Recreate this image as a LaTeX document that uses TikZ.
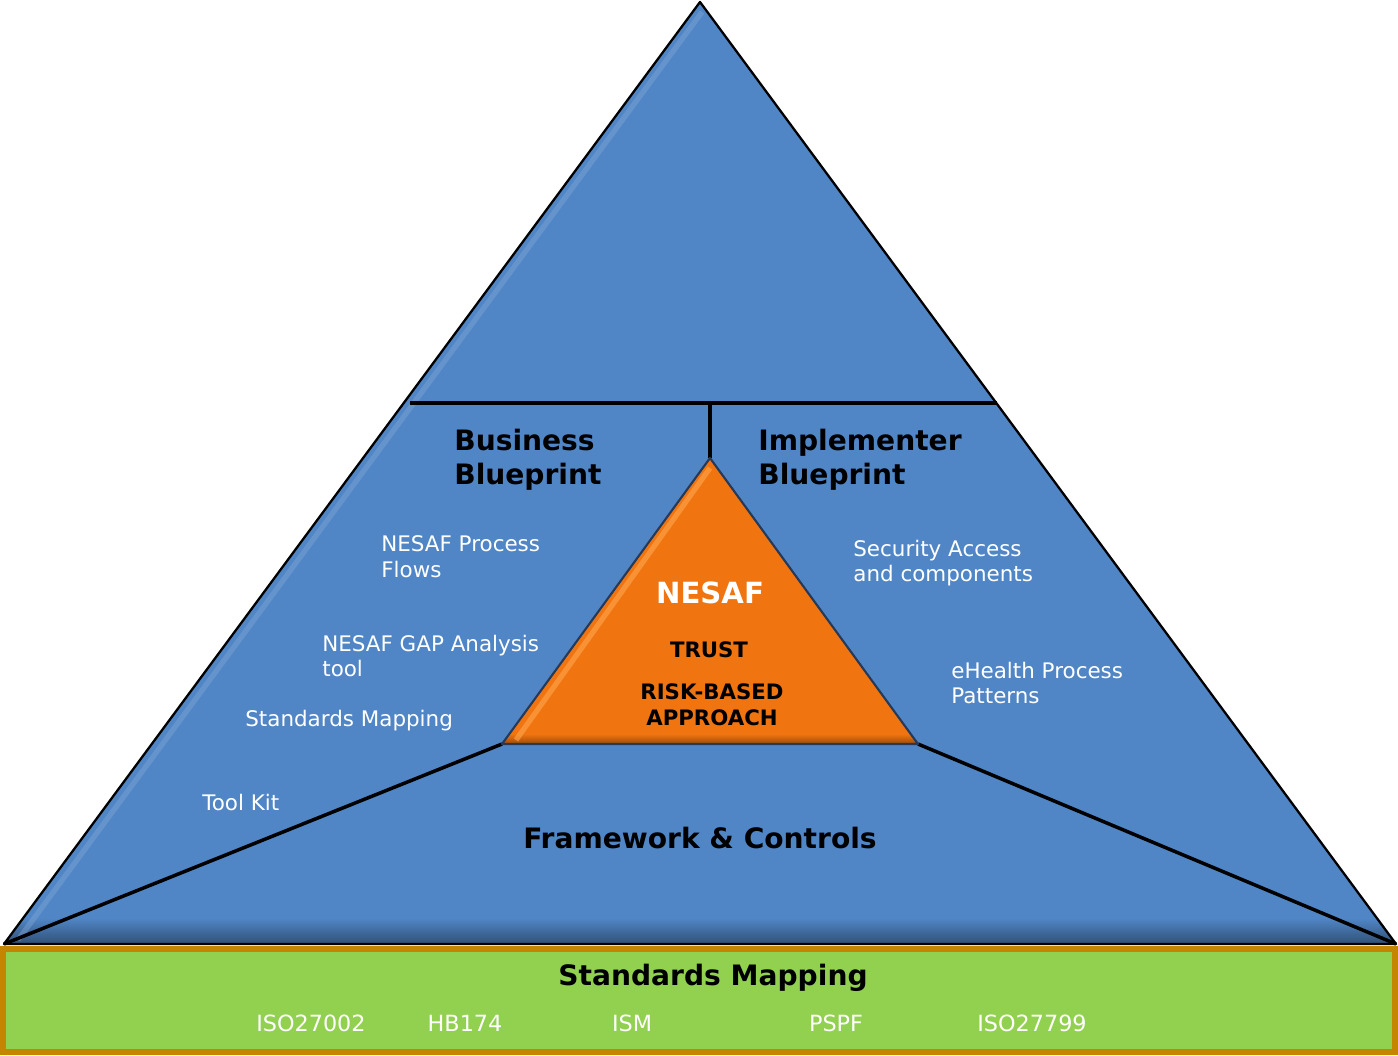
\documentclass[tikz,border=0pt]{standalone}
\usepackage{fontspec}
\setmainfont{DejaVu Sans}
\usetikzlibrary{positioning, calc}
\definecolor{pyrBlue}{RGB}{80,134,198}
\definecolor{coreOrange}{RGB}{240,116,16}
\definecolor{baseGreen}{RGB}{146,208,80}
\definecolor{baseGold}{RGB}{196,134,0}
\definecolor{edgeDark}{RGB}{38,58,88}

\tikzset{
  whiteText/.style={text=white, font=\fontsize{12.2}{14.6}\selectfont, align=left, anchor=west, inner sep=0pt},
  headText/.style={text=black, font=\fontsize{16}{19.3}\bfseries\selectfont, align=left, anchor=west, inner sep=0pt},
  stdText/.style={text=white, font=\fontsize{12.7}{14}\selectfont, inner sep=0pt},
}

\begin{document}
\begin{tikzpicture}[x=0.02cm, y=-0.02cm]
    \useasboundingbox (0,0) rectangle (1398,1055);

    % eckpunkte
    \coordinate (top) at (700,2);
    \coordinate (bl) at (4,944);
    \coordinate (br) at (1396,944);
    \coordinate (hl) at (410,403);
    \coordinate (hr) at (997,403);
    \coordinate (hm) at (710,403);
    \coordinate (ctop) at (710,458);
    \coordinate (cl) at (502,744);
    \coordinate (cr) at (918,744);

    % grosses dreieck
    \fill[pyrBlue] (top) -- (bl) -- (br) -- cycle;
    \begin{scope}
        \clip (top) -- (bl) -- (br) -- cycle;
        \shade[top color=pyrBlue, bottom color=pyrBlue!60!black] (0,918) rectangle (1398,944);
        \draw[pyrBlue!70!white, line width=3pt, opacity=0.4] ($(top)+(2,10)$) -- ($(bl)+(14,-4)$);
    \end{scope}
    \draw[black, line width=1.3pt, line join=round] (top) -- (bl) -- (br) -- cycle;

    % trennlinien
    \draw[black, line width=2.8pt] (hl) -- (hr);
    \draw[black, line width=2.8pt] (hm) -- (ctop);
    \draw[black, line width=2pt] (cl) -- (bl);
    \draw[black, line width=2pt] (cr) -- (br);

    % kern-dreieck
    \fill[coreOrange] (ctop) -- (cl) -- (cr) -- cycle;
    \begin{scope}
        \clip (ctop) -- (cl) -- (cr) -- cycle;
        \shade[top color=coreOrange, bottom color=coreOrange!65!black] (0,734) rectangle (1398,744);
        \draw[orange!70!white, line width=3pt, opacity=0.6] ($(ctop)+(0,10)$) -- ($(cl)+(14,-4)$);
    \end{scope}
    \draw[edgeDark, line width=1.2pt, line join=round] (ctop) -- (cl) -- (cr) -- cycle;

    % beschriftung oben
    \node[headText] (biz) at (454,460) {Business\\Blueprint};
    \node[headText] (impl) at (758,460) {Implementer\\Blueprint};

    \node[whiteText] (flows) at (381,557) {NESAF Process\\Flows};
    \node[whiteText] (gap) at (322,656) {NESAF GAP Analysis\\tool};
    \node[whiteText] (mapL) at (245,721) {Standards Mapping};
    \node[whiteText] (kit) at (202,802) {Tool Kit};

    \node[whiteText] (sec) at (853,563) {Security Access\\and components};
    \node[whiteText] (ehp) at (951,683) {eHealth Process\\Patterns};

    % kern
    \node[text=white, font=\fontsize{16.6}{19}\bfseries\selectfont] (nesaf) at (710,593) {NESAF};
    \node[font=\fontsize{12.1}{14.5}\bfseries\selectfont] (trust) at (709,650) {TRUST};
    \node[font=\fontsize{12.1}{14.7}\bfseries\selectfont, align=center] (risk) at (712,705) {RISK-BASED\\APPROACH};

    \node[font=\fontsize{16}{19}\bfseries\selectfont] (fc) at (700,838) {Framework \& Controls};

    % standards leiste
    \draw[baseGold, fill=baseGreen, line width=3.4pt] (3,949) rectangle (1395,1052);
    \node[font=\fontsize{16}{19}\bfseries\selectfont] (std) at (713,978) {Standards Mapping};
    \node[stdText] (iso1) at (311,1023) {ISO27002};
    \node[stdText] (hb) at (465,1023) {HB174};
    \node[stdText] (ism) at (632,1023) {ISM};
    \node[stdText] (pspf) at (836,1023) {PSPF};
    \node[stdText] (iso2) at (1032,1023) {ISO27799};
\end{tikzpicture}
\end{document}
